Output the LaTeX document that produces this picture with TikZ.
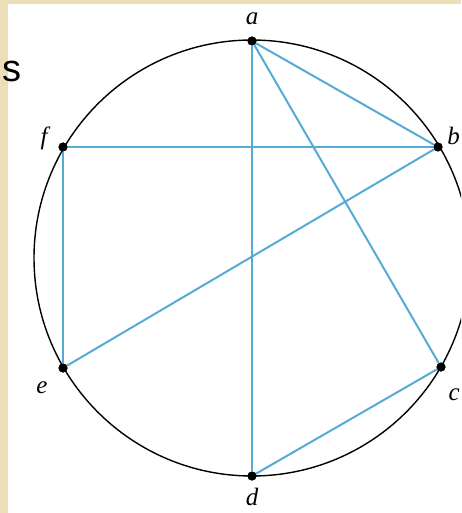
\documentclass[tikz,border=0pt]{standalone}
\usepackage{fontspec}
\setmainfont{Liberation Serif}
\newfontfamily\slidefont{Liberation Sans}
\definecolor{beige}{RGB}{236,222,182}
\definecolor{edgeblue}{RGB}{88,170,214}
\begin{document}
\begin{tikzpicture}[x=1pt,y=-1pt,
  vtx/.style={circle,fill=black,inner sep=0pt,minimum size=9pt},
  lbl/.style={font=\fontsize{25}{25}\selectfont\itshape,inner sep=0pt},
  edge/.style={draw=edgeblue,line width=2pt}]
\useasboundingbox (0,0) rectangle (461,513);
\clip (0,0) rectangle (461,513);
\fill[beige] (0,0) rectangle (461,513);
\fill[white] (8,4) rectangle (461,513);
\draw[line width=1.4pt] (252,258) circle[radius=218];
\node[vtx] (a) at (252,41) {};
\node[vtx] (b) at (438,147) {};
\node[vtx] (c) at (441,367) {};
\node[vtx] (d) at (252,476) {};
\node[vtx] (e) at (63,368) {};
\node[vtx] (f) at (63,147) {};
\draw[edge] (a) -- (b);
\draw[edge] (a) -- (c);
\draw[edge] (a) -- (d);
\draw[edge] (f) -- (b);
\draw[edge] (f) -- (e);
\draw[edge] (e) -- (b);
\draw[edge] (d) -- (c);
\node[vtx] at (a) {};\node[vtx] at (b) {};\node[vtx] at (c) {};
\node[vtx] at (d) {};\node[vtx] at (e) {};\node[vtx] at (f) {};
\node[lbl,anchor=base] (la) at (252,25) {a};
\node[lbl,anchor=base east] (lb) at (460,145) {b};
\node[lbl,anchor=base east] (lc) at (460,400) {c};
\node[lbl,anchor=base] (ld) at (252,505) {d};
\node[lbl,anchor=base] (le) at (42,393) {e};
\node[lbl,anchor=base] (lf) at (44,145) {f};
\node[font=\slidefont\fontsize{38}{38}\selectfont,anchor=base west,inner sep=0pt] (s) at (2,82) {s};
\end{tikzpicture}
\end{document}
